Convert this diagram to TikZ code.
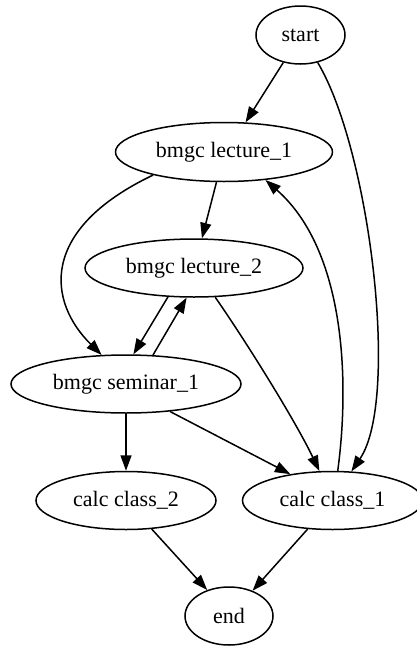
\documentclass[tikz,border=0pt]{standalone}
\usepackage{fontspec}
\setmainfont{Liberation Serif}
\newfontfamily\gvfont{Liberation Serif}
\usetikzlibrary{shapes.geometric,arrows.meta}
\begin{document}
\begin{tikzpicture}[x=1pt,y=-1pt,
  gnode/.style={draw,ellipse,line width=1.5pt,inner sep=0pt,minimum height=58pt,
    font=\gvfont\fontsize{22}{26}\selectfont},
  edge/.style={line width=1.5pt,-{Triangle[length=15.5pt,width=11pt]}}]
\useasboundingbox (0,0) rectangle (416,646);
\node[gnode,minimum width=89pt]  (start) at (300.5,35) {start};
\node[gnode,minimum width=217pt,minimum height=59pt] (lec1) at (224,152) {bmgc lecture\_1};
\node[gnode,minimum width=218pt] (lec2) at (194,268) {bmgc lecture\_2};
\node[gnode,minimum width=230pt] (sem1) at (126,384) {bmgc seminar\_1};
\node[gnode,minimum width=180pt] (cc2) at (126,500.5) {calc class\_2};
\node[gnode,minimum width=180pt] (cc1) at (332.5,500.5) {calc class\_1};
\node[gnode,minimum width=88pt]  (end) at (229,616) {end};

\draw[edge] (start.-122) -- (lec1.54);
\draw[edge] (start.-58) .. controls (370,150) and (400,400) .. (cc1.57);
\draw[edge] (lec1.-104) -- (lec2.75);
\draw[edge] (lec1.-162) .. controls (38,230) and (48,302) .. (sem1.130);
\draw[edge] (lec2.-132) -- (sem1.76);
\draw[edge] (sem1.47) -- (lec2.-104);
\draw[edge] (cc1.80) .. controls (350,380) and (345,250) .. (lec1.-34.5);
\draw[edge] (lec2.-54) .. controls (245,340) and (295,420) .. (cc1.114.6);
\draw[edge] (sem1.-32) -- (cc1.148.5);
\draw[edge] (sem1.south) -- (cc2.north);
\draw[edge] (cc2.-48.3) -- (end.130.4);
\draw[edge] (cc1.-131.2) -- (end.47);
\end{tikzpicture}
\end{document}
